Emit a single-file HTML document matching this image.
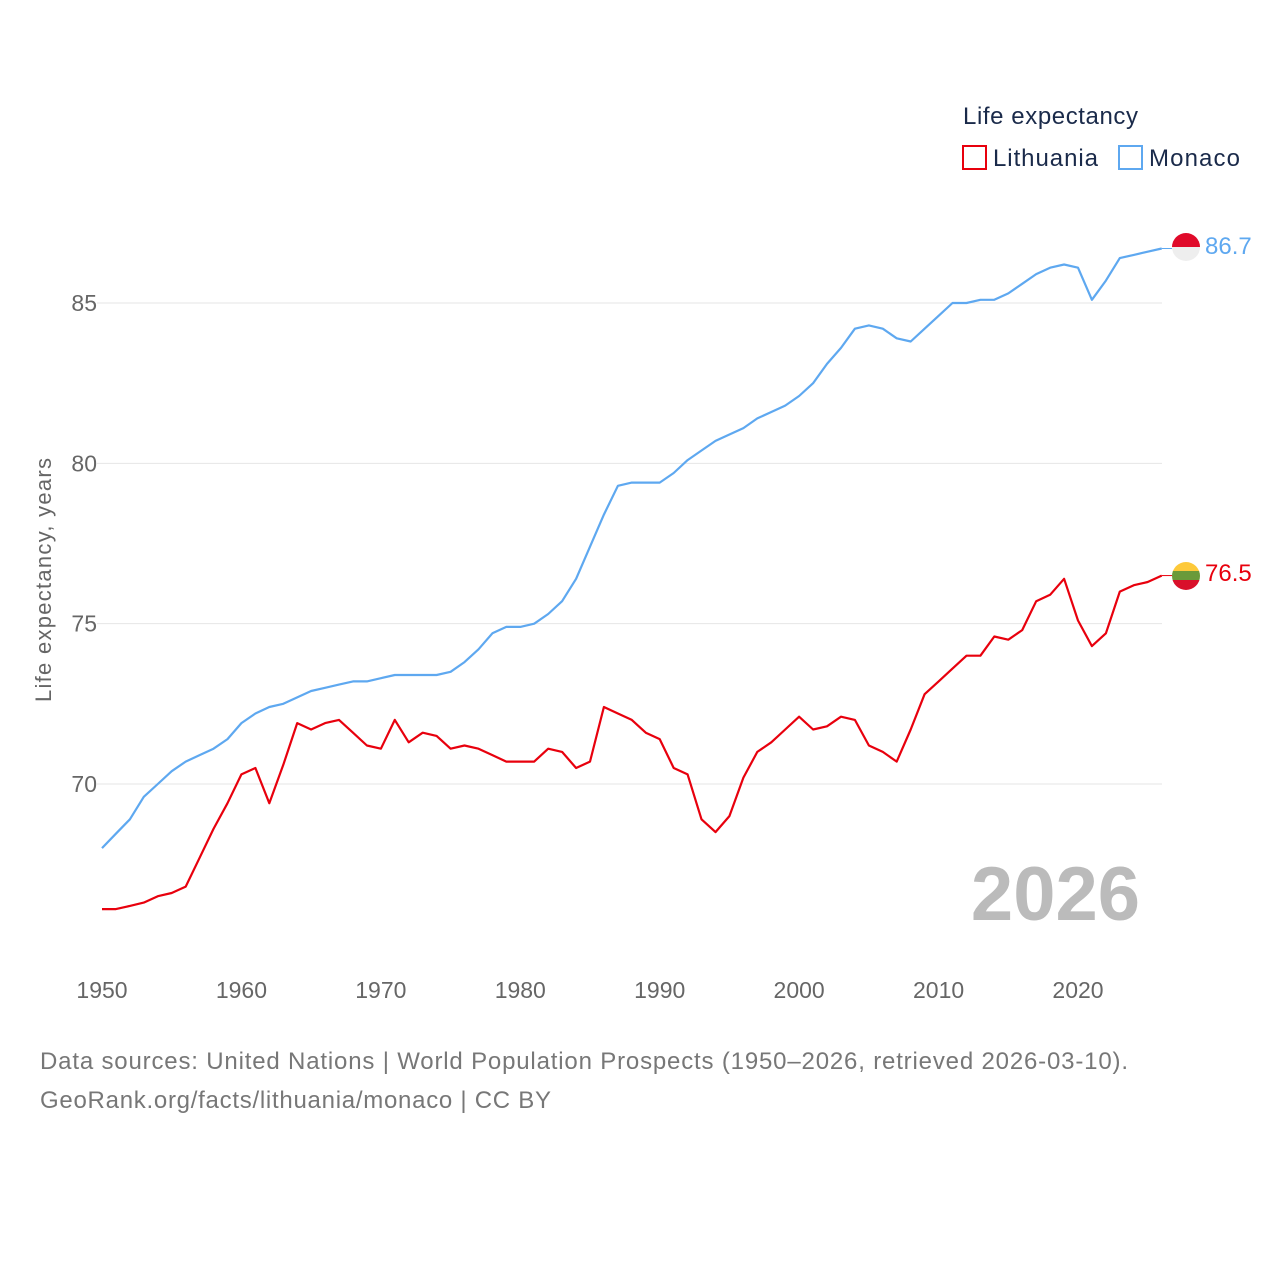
<!DOCTYPE html>
<html><head><meta charset="utf-8"><style>
body{margin:0;background:#fff;font-family:"Liberation Sans",sans-serif;}
svg text{font-family:"Liberation Sans",sans-serif;}
</style></head><body>
<svg id="chart" width="1280" height="1280" viewBox="0 0 1280 1280" xmlns="http://www.w3.org/2000/svg">
<g id="grid"></g>
<g id="yticks"></g>
<g id="xticks"></g>
<text transform="translate(51,580) rotate(-90)" text-anchor="middle" font-size="22" fill="#666" textLength="244">Life expectancy, years</text>
<text x="1140" y="920" text-anchor="end" font-size="76" font-weight="bold" fill="#bbb">2026</text>
<g id="series"></g>
<g>
<text x="963" y="124" font-size="24" fill="#1a2a4a" textLength="175">Life expectancy</text>
<g><rect x="963" y="146" width="23" height="23" fill="none" stroke="#e8000d" stroke-width="2"/><text x="993" y="166" font-size="24" fill="#1a2a4a" textLength="105">Lithuania</text></g>
<g><rect x="1119" y="146" width="23" height="23" fill="none" stroke="#5ea8f0" stroke-width="2"/><text x="1149" y="166" font-size="24" fill="#1a2a4a" textLength="91">Monaco</text></g>
</g>
<g>
<clipPath id="cm"><circle cx="1186" cy="247" r="14"/></clipPath>
<g clip-path="url(#cm)"><rect x="1172" y="233" width="28" height="14" fill="#e00a2a"/><rect x="1172" y="247" width="28" height="14" fill="#eee"/></g>
</g>
<g>
<clipPath id="cl"><circle cx="1186" cy="576" r="14"/></clipPath>
<g clip-path="url(#cl)"><rect x="1172" y="562" width="28" height="10" fill="#fdc93a"/><rect x="1172" y="571" width="28" height="10" fill="#6a9a3a"/><rect x="1172" y="580" width="28" height="10" fill="#d9102a"/></g>
</g>
<text id="lblM" x="1205" y="254" font-size="24" fill="#5ea8f0"></text>
<text id="lblL" x="1205" y="581" font-size="24" fill="#e8000d"></text>
<text x="40" y="1069" font-size="24" fill="#777" textLength="1088">Data sources: United Nations | World Population Prospects (1950–2026, retrieved 2026-03-10).</text>
<text x="40" y="1108" font-size="24" fill="#777" textLength="511">GeoRank.org/facts/lithuania/monaco | CC BY</text>
</svg>
<script>
const startYear = 1950;
const yTicks = [70, 75, 80, 85];
const xTicks = [1950, 1960, 1970, 1980, 1990, 2000, 2010, 2020];
const monaco = [68.0,68.45,68.9,69.6,70.0,70.4,70.7,70.9,71.1,71.4,71.9,72.2,72.4,72.5,72.7,72.9,73.0,73.1,73.2,73.2,73.3,73.4,73.4,73.4,73.4,73.5,73.8,74.2,74.7,74.9,74.9,75.0,75.3,75.7,76.4,77.4,78.4,79.3,79.4,79.4,79.4,79.7,80.1,80.4,80.7,80.9,81.1,81.4,81.6,81.8,82.1,82.5,83.1,83.6,84.2,84.3,84.2,83.9,83.8,84.2,84.6,85.0,85.0,85.1,85.1,85.3,85.6,85.9,86.1,86.2,86.1,85.1,85.7,86.4,86.5,86.6,86.7];
const lithuania = [66.1,66.1,66.2,66.3,66.5,66.6,66.8,67.7,68.6,69.4,70.3,70.5,69.4,70.6,71.9,71.7,71.9,72.0,71.6,71.2,71.1,72.0,71.3,71.6,71.5,71.1,71.2,71.1,70.9,70.7,70.7,70.7,71.1,71.0,70.5,70.7,72.4,72.2,72.0,71.6,71.4,70.5,70.3,68.9,68.5,69.0,70.2,71.0,71.3,71.7,72.1,71.7,71.8,72.1,72.0,71.2,71.0,70.7,71.7,72.8,73.2,73.6,74.0,74.0,74.6,74.5,74.8,75.7,75.9,76.4,75.1,74.3,74.7,76.0,76.2,76.3,76.5];

const NS = "http://www.w3.org/2000/svg";
function xs(year){ return 102 + (year - 1950) * (1078 - 102) / 70; }
function ys(v){ return 784 - (v - 70) * (784 - 303) / 15; }
function mk(tag, attrs, parent){ const e = document.createElementNS(NS, tag); for (const k in attrs) e.setAttribute(k, attrs[k]); parent.appendChild(e); return e; }

const grid = document.getElementById('grid'), yt = document.getElementById('yticks'), xt = document.getElementById('xticks'), ser = document.getElementById('series');
yTicks.forEach(t => {
  const l = mk('line', {x1: 97, x2: 1162, y1: ys(t), y2: ys(t), stroke: '#e6e6e6', 'stroke-width': 1}, grid);
  
  
  const tx = mk('text', {x: 97, y: ys(t) + 8, 'text-anchor': 'end', 'font-size': 23, fill: '#666'}, yt);
  tx.textContent = t;
  
  
});
xTicks.forEach(t => {
  const tx = mk('text', {x: xs(t), y: 998, 'text-anchor': 'middle', 'font-size': 23, fill: '#666'}, xt);
  tx.textContent = t;
  
  
});
function draw(vals, color, name){
  const d = vals.map((v, i) => (i ? 'L' : 'M') + xs(startYear + i).toFixed(1) + ',' + ys(v).toFixed(1)).join(' ');
  const p = mk('path', {d: d, fill: 'none', stroke: color, 'stroke-width': 2.2, 'stroke-linejoin': 'round'}, ser);
  
  
  const last = vals.length - 1;
  const c = mk('line', {x1: xs(startYear + last), x2: 1172, y1: ys(vals[last]), y2: ys(vals[last]), stroke: color, 'stroke-width': 1}, ser);
  
  
}
draw(monaco, '#5ea8f0', 'monaco-line');
draw(lithuania, '#e8000d', 'lithuania-line');
document.getElementById('lblM').textContent = monaco[monaco.length - 1].toFixed(1);
document.getElementById('lblL').textContent = lithuania[lithuania.length - 1].toFixed(1);
</script>
</body></html>
